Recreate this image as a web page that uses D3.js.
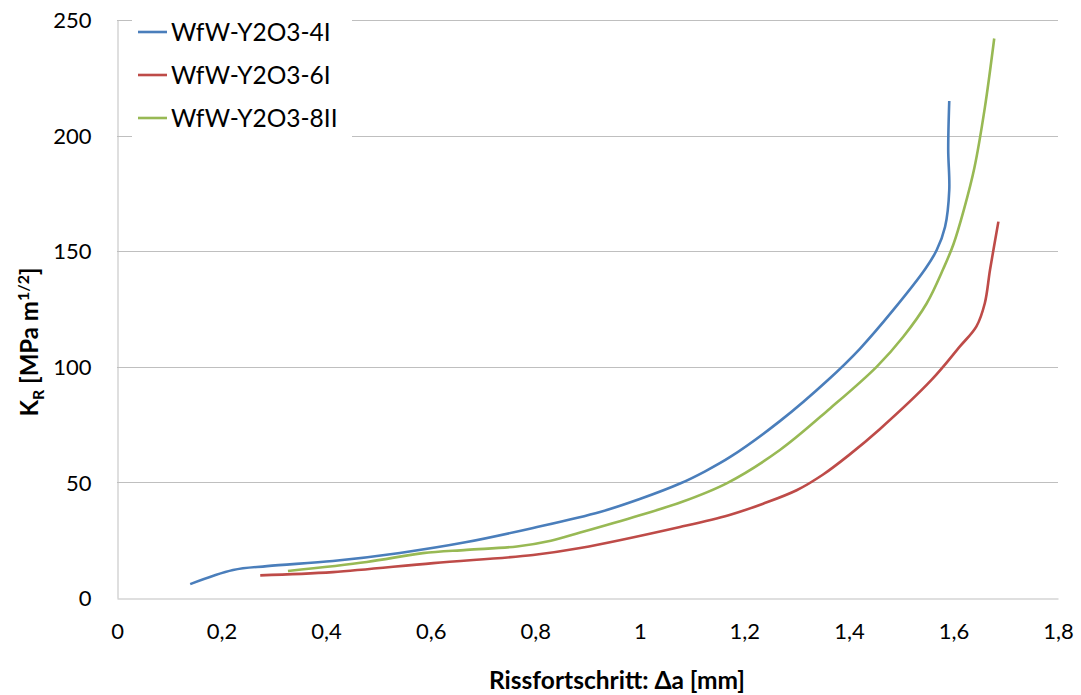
<!DOCTYPE html>
<html>
<head>
<meta charset="utf-8">
<script src="https://cdn.jsdelivr.net/npm/d3@7"></script>
<style>
  html, body { margin: 0; padding: 0; background: #fff; }
  svg { display: block; }
  text { font-family: Lato, "Open Sans", sans-serif; fill: #000; }
</style>
</head>
<body>
<svg id="chart" width="1081" height="695"></svg>
<script>
// Crack growth resistance curves (Δa in mm, K_R in MPa m^1/2)
const seriesNames = ["WfW-Y2O3-4I", "WfW-Y2O3-6I", "WfW-Y2O3-8II"];
const seriesColors = ["#4a7ebb", "#be4b48", "#98b954"];

const blueX = [0.140, 0.222, 0.287, 0.413, 0.541, 0.669, 0.796, 0.924, 1.000, 1.077, 1.125, 1.173, 1.268, 1.360, 1.421, 1.485, 1.546, 1.568, 1.584, 1.592, 1.590, 1.592];
const blueY = [6.0, 12.1, 13.8, 16.0, 19.5, 24.2, 30.3, 37.2, 42.8, 49.5, 54.8, 61.0, 76.5, 94.3, 107.8, 124.6, 142.3, 150.5, 160.6, 176.5, 194.0, 215.0];

const redX = [0.274, 0.413, 0.605, 0.796, 0.886, 1.077, 1.170, 1.236, 1.300, 1.350, 1.400, 1.459, 1.558, 1.612, 1.644, 1.660, 1.670, 1.686];
const redY = [9.8, 11.2, 15.1, 18.6, 21.6, 30.7, 35.8, 40.8, 46.6, 53.3, 61.8, 73.0, 94.3, 108.7, 117.5, 127.5, 142.0, 162.8];

const greenX = [0.327, 0.478, 0.585, 0.669, 0.765, 0.830, 0.886, 1.000, 1.080, 1.167, 1.268, 1.364, 1.453, 1.504, 1.549, 1.581, 1.600, 1.620, 1.640, 1.660, 1.678];
const greenY = [11.7, 15.6, 19.4, 20.8, 22.3, 24.8, 28.3, 35.8, 41.5, 49.7, 64.0, 82.0, 100.0, 113.0, 127.5, 142.6, 153.0, 168.0, 186.0, 212.0, 242.0];

const xTicks = [0, 0.2, 0.4, 0.6, 0.8, 1.0, 1.2, 1.4, 1.6, 1.8];
const yTicks = [0, 50, 100, 150, 200, 250];

const series = [
  { name: seriesNames[0], color: seriesColors[0], xs: blueX, ys: blueY },
  { name: seriesNames[1], color: seriesColors[1], xs: redX, ys: redY },
  { name: seriesNames[2], color: seriesColors[2], xs: greenX, ys: greenY }
];

const svg = d3.select("#chart");
const plot = { left: 117, right: 1058, top: 20, bottom: 598 };

const x = d3.scaleLinear().domain([0, 1.8]).range([plot.left, plot.right]);
const y = d3.scaleLinear().domain([0, 250]).range([plot.bottom, plot.top]);

const fmt = d => String(+d.toFixed(1)).replace(".", ",");

// horizontal gridlines
svg.append("g")
  .selectAll("line")
  .data(yTicks.filter(d => d > 0))
  .join("line")
  .attr("x1", plot.left).attr("x2", plot.right)
  .attr("y1", d => Math.round(y(d)) + 0.5).attr("y2", d => Math.round(y(d)) + 0.5)
  .attr("stroke", "#bfbfbf").attr("stroke-width", 1);

// y axis
const yAxis = svg.append("g")
  .attr("transform", `translate(${plot.left + 0.5},0)`)
  .call(d3.axisLeft(y).tickValues(yTicks).tickSize(0).tickPadding(26).tickFormat(d3.format("d")));
yAxis.select(".domain").attr("stroke", "#bfbfbf");
yAxis.selectAll("text").style("font-size", "22px").attr("dy", "0.35em");

// x axis
const xAxis = svg.append("g")
  .attr("transform", `translate(0,${plot.bottom + 0.5})`)
  .call(d3.axisBottom(x).tickValues(xTicks).tickSize(0).tickPadding(25).tickFormat(fmt));
xAxis.select(".domain").attr("stroke", "#bfbfbf");
xAxis.selectAll("text").style("font-size", "22px");

// curves
const line = d3.line()
  .x(d => x(d[0])).y(d => y(d[1]))
  .curve(d3.curveCatmullRom.alpha(0.5));

svg.append("g")
  .selectAll("path")
  .data(series)
  .join("path")
  .attr("d", s => line(s.xs.map((v, i) => [v, s.ys[i]])))
  .attr("fill", "none")
  .attr("stroke", s => s.color)
  .attr("stroke-width", 2.6)
  .attr("stroke-linejoin", "round")
  .attr("stroke-linecap", "butt");

// legend
const legend = svg.append("g");
legend.append("rect")
  .attr("x", 132).attr("y", 14).attr("width", 220).attr("height", 128)
  .attr("fill", "#fff");
const items = legend.selectAll("g.item")
  .data(series)
  .join("g").attr("class", "item")
  .attr("transform", (d, i) => `translate(0,${32 + i * 43})`);
items.append("line")
  .attr("x1", 138).attr("x2", 167).attr("y1", 0).attr("y2", 0)
  .attr("stroke", d => d.color).attr("stroke-width", 2.6);
items.append("text")
  .attr("x", 171).attr("y", 0).attr("dy", "0.36em")
  .style("font-size", "24.5px")
  .text(d => d.name);

// axis titles
svg.append("text")
  .attr("x", 617).attr("y", 689)
  .attr("text-anchor", "middle")
  .style("font-size", "24.5px").style("font-weight", "bold")
  .text("Rissfortschritt: Δa [mm]");

const yt = svg.append("text")
  .attr("transform", "translate(38,342) rotate(-90)")
  .attr("text-anchor", "middle")
  .style("font-size", "24px").style("font-weight", "bold");
yt.append("tspan").text("K");
yt.append("tspan").attr("dy", 6).style("font-size", "16px").text("R");
yt.append("tspan").attr("dy", -6).text(" [MPa m");
yt.append("tspan").attr("dy", -9).style("font-size", "16px").text("1/2");
yt.append("tspan").attr("dy", 9).text("]");
</script>
</body>
</html>
